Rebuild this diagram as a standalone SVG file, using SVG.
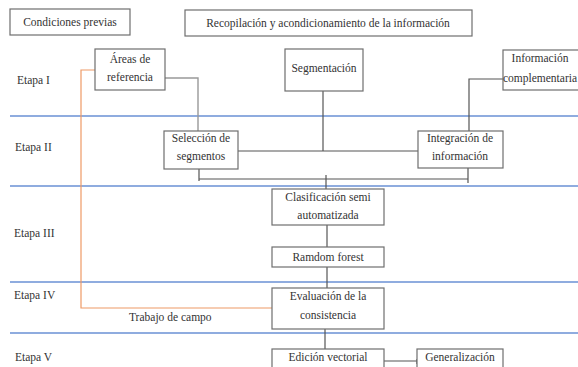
<svg xmlns="http://www.w3.org/2000/svg" width="578" height="367" viewBox="0 0 578 367">
<style>
text{font-family:'Liberation Serif','Times New Roman',serif;font-size:11.5px;fill:#333}
.c{text-anchor:middle}
.box{fill:#fff;stroke:#6e6e6e;stroke-width:1.2}
.blue{stroke:#6a90d4;stroke-width:1.6;fill:none}
.ln{stroke:#555;stroke-width:1.2;fill:none}
.lt{stroke:#999;stroke-width:1.4;fill:none}
.or{stroke:#ee9a66;stroke-width:1.2;fill:none}
</style>
<rect width="578" height="367" fill="#fff"/>
<g id="bands">
<line class="blue" x1="10" y1="116" x2="578" y2="116"/>
<line class="blue" x1="10" y1="186" x2="578" y2="186"/>
<line class="blue" x1="10" y1="282" x2="578" y2="282"/>
<line class="blue" x1="10" y1="333" x2="578" y2="333"/>
</g>
<g id="labels">
<text x="17" y="84">Etapa I</text>
<text x="15" y="151">Etapa II</text>
<text x="14" y="237">Etapa III</text>
<text x="14" y="299">Etapa IV</text>
<text x="15" y="361">Etapa V</text>
<text x="129" y="321">Trabajo de campo</text>
</g>
<g id="connectors">
<path class="lt" d="M165,78 H198 V131"/>
<path class="ln" d="M323,91 V151"/>
<path class="ln" d="M503,79 H469 V131"/>
<path class="ln" d="M238,151 H418"/>
<path class="ln" d="M199,169 V181 M199,179 H468 M468,168 V183"/>
<path class="ln" d="M326,175 V189"/>
<path class="ln" d="M327,225 V247"/>
<path class="ln" d="M327,267 V288"/>
<path class="ln" d="M325,329 V349"/>
<path class="ln" d="M384,361 H417 M417,359 V364"/>
<path class="or" d="M95,70 H81 V308 H272"/>
</g>
<g id="n-condiciones"><rect class="box" x="10" y="9" width="120" height="26"/><text class="c" x="70" y="26">Condiciones previas</text></g>
<g id="n-recopilacion"><rect class="box" x="185" y="10" width="287" height="26"/><text class="c" x="328" y="27">Recopilación y acondicionamiento de la información</text></g>
<g id="n-areas"><rect class="box" x="95" y="49" width="70" height="41"/><text class="c" x="130" y="63">Áreas de</text><text class="c" x="130" y="81">referencia</text></g>
<g id="n-segmentacion"><rect class="box" x="285" y="49" width="78" height="42"/><text class="c" x="324" y="72">Segmentación</text></g>
<g id="n-infocomp"><rect class="box" x="503" y="50" width="80" height="40"/><text class="c" x="540" y="62">Información</text><text class="c" x="540" y="82">complementaria</text></g>
<g id="n-seleccion"><rect class="box" x="164" y="131" width="74" height="38"/><text class="c" x="201" y="142">Selección de</text><text class="c" x="201" y="160">segmentos</text></g>
<g id="n-integracion"><rect class="box" x="418" y="131" width="85" height="37"/><text class="c" x="460" y="142">Integración de</text><text class="c" x="460" y="160">información</text></g>
<g id="n-clasificacion"><rect class="box" x="272" y="189" width="112" height="36"/><text class="c" x="328" y="201">Clasificación semi</text><text class="c" x="328" y="219">automatizada</text></g>
<g id="n-ramdom"><rect class="box" x="272" y="247" width="112" height="20"/><text class="c" x="328" y="261">Ramdom forest</text></g>
<g id="n-evaluacion"><rect class="box" x="272" y="288" width="112" height="41"/><text class="c" x="328" y="300">Evaluación de la</text><text class="c" x="328" y="319">consistencia</text></g>
<g id="n-edicion"><rect class="box" x="272" y="349" width="112" height="30"/><text class="c" x="328" y="361">Edición vectorial</text></g>
<g id="n-generalizacion"><rect class="box" x="417" y="349" width="86" height="30"/><text class="c" x="460" y="361">Generalización</text></g>
</svg>
